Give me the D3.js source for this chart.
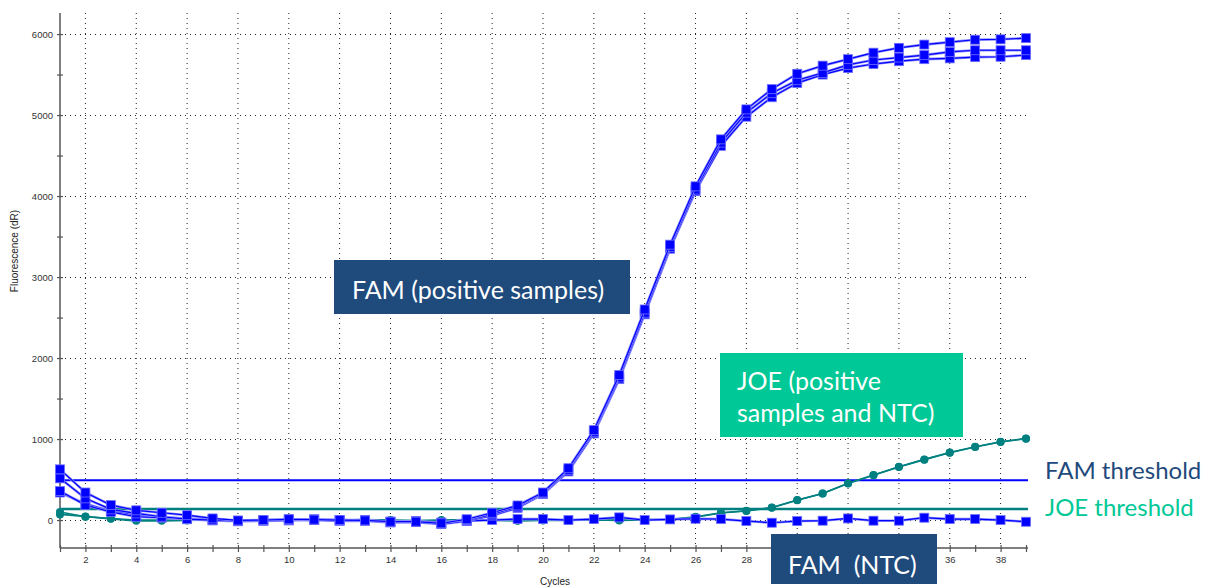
<!DOCTYPE html>
<html>
<head>
<meta charset="utf-8">
<script src="https://cdn.jsdelivr.net/npm/d3@7"></script>
<style>
  html, body { margin: 0; padding: 0; background: #fff; }
  svg { display: block; }
</style>
</head>
<body>
<svg id="chart" width="1212" height="588"></svg>
<script>
// ---------------------------------
// data
// ---------------------------------

var cycles = d3.range(1, 40);

var famPosA = [626, 340, 185, 120, 90, 60, 20, -5, 0, 10, 5, 0, -5, -20, -20, -40, 10, 90, 180, 340,
  640, 1110, 1790, 2600, 3400, 4120, 4700, 5070, 5320, 5510, 5610, 5690, 5770, 5830, 5870, 5900, 5930, 5935, 5950];
var famPosB = [515, 268, 132, 82, 41, 12, 0, -10, -5, 0, 10, -5, 0, -25, -15, -30, 0, 70, 165, 330,
  620, 1090, 1760, 2560, 3370, 4080, 4660, 5030, 5270, 5430, 5520, 5620, 5680, 5710, 5740, 5780, 5800, 5800, 5800];
var famPosC = [358, 185, 100, 41, 30, 10, -5, -15, -10, -5, 0, -10, -10, -30, -25, -50, -10, 55, 150, 320,
  600, 1070, 1740, 2540, 3350, 4060, 4620, 4980, 5220, 5395, 5500, 5580, 5630, 5665, 5690, 5700, 5715, 5720, 5740];
var famNtc = [340, 200, 110, 60, 35, 20, 5, -10, 0, 10, 5, 0, 0, -20, -15, -40, -10, 0, 12, 12,
  0, 12, 33, 0, 8, 16, 12, -12, -33, -12, -8, 20, -8, -8, 29, 12, 12, 0, -21];
var joeA = [100, 40, 20, 0, 0, 0, 5, -5, 0, 5, 0, 0, 5, 0, -5, 0, 5, 0, -5, 0,
  0, 5, 0, 5, 10, 40, 91, 115, 156, 247, 329, 453, 556, 658, 749, 835, 905, 967, 1008];
var joeB = [70, 45, 15, -10, -10, -5, 0, -10, -5, 0, -5, 0, 0, -5, -10, -5, 0, -5, -10, -5,
  -5, 0, -5, 0, 5, 35, 88, 112, 152, 245, 327, 450, 553, 655, 746, 832, 902, 964, 1005];

var famThreshold = 490;
var joeThreshold = 135;

var yTicks = [0, 1000, 2000, 3000, 4000, 5000, 6000];
var yMinorTicks = d3.range(0, 6001, 500);
var xLabelTicks = d3.range(2, 39, 2);

// ---------------------------------
// layout
// ---------------------------------

var FAM_BLUE = '#0000ff';
var JOE_TEAL = '#008080';
var BOX_NAVY = '#1f4a7c';
var BOX_GREEN = '#00c896';

var svg = d3.select('#chart');

var x = d3.scaleLinear().domain([1, 39]).range([60, 1026]);
var y = d3.scaleLinear().domain([-345, 6260]).range([548, 13]);

var xLeft = 60, xRight = 1028, yTop = 13, yBottom = 548;

// the FAM (NTC) box sits over the bottom axis, hiding the labels under it
var ntcBox = { x: 771, y: 534, w: 166, h: 50 };

// grid
var grid = svg.append('g').attr('class', 'grid');
grid.selectAll('line.v').data(xLabelTicks).enter().append('line')
  .attr('x1', function (d) { return x(d); })
  .attr('x2', function (d) { return x(d); })
  .attr('y1', yTop)
  .attr('y2', yBottom)
  .attr('stroke', '#222')
  .attr('stroke-width', 1)
  .attr('stroke-dasharray', '1,4');
grid.selectAll('line.h').data(yTicks).enter().append('line')
  .attr('x1', xLeft)
  .attr('x2', xRight)
  .attr('y1', function (d) { return Math.round(y(d)) + 0.5; })
  .attr('y2', function (d) { return Math.round(y(d)) + 0.5; })
  .attr('stroke', '#222')
  .attr('stroke-width', 1)
  .attr('stroke-dasharray', '1,4');

// axes
var axisColor = '#555';
var xAxis = d3.axisBottom(x).tickValues(cycles).tickSize(7).tickFormat(function (d) {
  var px = x(d);
  var hidden = px > ntcBox.x - 6 && px < ntcBox.x + ntcBox.w + 6;
  return d % 2 === 0 && d < 39 && !hidden ? d : '';
});
var gx = svg.append('g')
  .attr('transform', 'translate(0,' + (yBottom - 3) + ')')
  .call(xAxis);
gx.select('.domain').remove();
gx.selectAll('.tick line').attr('stroke', axisColor).attr('stroke-width', 1.2);
gx.selectAll('.tick text')
  .attr('y', 11)
  .attr('fill', '#333')
  .attr('font-family', 'Liberation Sans, Arial, sans-serif')
  .attr('font-size', '9.5px');

var yAxis = d3.axisLeft(y).tickValues(yMinorTicks).tickSize(6).tickFormat(function (d) {
  return d % 1000 === 0 ? d : '';
});
var gy = svg.append('g')
  .attr('transform', 'translate(' + (xLeft + 3) + ',0)')
  .call(yAxis);
gy.select('.domain').remove();
gy.selectAll('.tick line').attr('stroke', axisColor).attr('stroke-width', 1.2);
gy.selectAll('.tick text')
  .attr('x', -10)
  .attr('fill', '#333')
  .attr('font-family', 'Liberation Sans, Arial, sans-serif')
  .attr('font-size', '9.5px');

svg.append('line')
  .attr('x1', xLeft).attr('x2', xLeft).attr('y1', yTop).attr('y2', yBottom)
  .attr('stroke', axisColor).attr('stroke-width', 1.5);
svg.append('line')
  .attr('x1', xLeft).attr('x2', xRight).attr('y1', yBottom).attr('y2', yBottom)
  .attr('stroke', axisColor).attr('stroke-width', 1.5);

// axis titles
svg.append('text')
  .attr('transform', 'translate(18,251) rotate(-90)')
  .attr('text-anchor', 'middle')
  .attr('font-family', 'Liberation Sans, Arial, sans-serif')
  .attr('font-size', '10px')
  .attr('fill', '#222')
  .text('Fluorescence (dR)');
svg.append('text')
  .attr('x', 555)
  .attr('y', 585)
  .attr('text-anchor', 'middle')
  .attr('font-family', 'Liberation Sans, Arial, sans-serif')
  .attr('font-size', '10px')
  .attr('fill', '#222')
  .text('Cycles');

// threshold lines
svg.append('line')
  .attr('x1', xLeft).attr('x2', xRight)
  .attr('y1', y(famThreshold)).attr('y2', y(famThreshold))
  .attr('stroke', FAM_BLUE).attr('stroke-width', 2);
svg.append('line')
  .attr('x1', xLeft).attr('x2', xRight)
  .attr('y1', y(joeThreshold)).attr('y2', y(joeThreshold))
  .attr('stroke', JOE_TEAL).attr('stroke-width', 2.5);

// ---------------------------------
// amplification curves
// ---------------------------------

var line = d3.line()
  .x(function (d) { return x(d.c); })
  .y(function (d) { return y(d.v); });

var toPoints = function (values) {
  return values.map(function (v, i) { return { c: cycles[i], v: v }; });
};

var series = [
  { values: joeA, color: JOE_TEAL, marker: 'circle' },
  { values: joeB, color: JOE_TEAL, marker: 'circle' },
  { values: famNtc, color: FAM_BLUE, marker: 'square' },
  { values: famPosC, color: FAM_BLUE, marker: 'square' },
  { values: famPosB, color: FAM_BLUE, marker: 'square' },
  { values: famPosA, color: FAM_BLUE, marker: 'square' }
];

var curves = svg.append('g').attr('class', 'curves');
series.forEach(function (s) {
  var pts = toPoints(s.values);
  var g = curves.append('g');
  if (s.marker === 'square') {
    g.append('path').datum(pts)
      .attr('d', line)
      .attr('fill', 'none')
      .attr('stroke', '#9090ff')
      .attr('stroke-width', 2.6);
  }
  g.append('path').datum(pts)
    .attr('d', line)
    .attr('fill', 'none')
    .attr('stroke', s.color)
    .attr('stroke-width', s.marker === 'square' ? 1.2 : 1.6);
  if (s.marker === 'square') {
    g.selectAll('rect').data(pts).enter().append('rect')
      .attr('x', function (d) { return x(d.c) - 4.5; })
      .attr('y', function (d) { return y(d.v) - 4.5; })
      .attr('width', 9)
      .attr('height', 9)
      .attr('fill', FAM_BLUE)
      .attr('stroke', '#7070ff')
      .attr('stroke-width', 0.8);
  } else {
    g.selectAll('circle').data(pts).enter().append('circle')
      .attr('cx', function (d) { return x(d.c); })
      .attr('cy', function (d) { return y(d.v); })
      .attr('r', 4)
      .attr('fill', JOE_TEAL);
  }
});

// ---------------------------------
// annotation boxes
// ---------------------------------

var labelFont = 'Lato, "Open Sans", sans-serif';

var box = function (bx, by, bw, bh, fill, lines, tx, ty, lineGap) {
  svg.append('rect')
    .attr('x', bx).attr('y', by).attr('width', bw).attr('height', bh)
    .attr('fill', fill);
  lines.forEach(function (t, i) {
    svg.append('text')
      .attr('x', tx)
      .attr('y', ty + i * lineGap)
      .attr('fill', '#fff')
      .attr('font-family', labelFont)
      .attr('font-size', '25px')
      .style('white-space', 'pre')
      .text(t);
  });
};

box(334, 260, 296, 54, BOX_NAVY, ['FAM (positive samples)'], 352, 299, 0);
box(720, 353, 243, 84, BOX_GREEN, ['JOE (positive', 'samples and NTC)'], 737, 390, 32);
box(ntcBox.x, ntcBox.y, ntcBox.w, ntcBox.h, BOX_NAVY, ['FAM  (NTC)'], 788, 574, 0);

svg.append('text')
  .attr('x', 1045).attr('y', 479)
  .attr('fill', BOX_NAVY)
  .attr('font-family', labelFont)
  .attr('font-size', '24px')
  .text('FAM threshold');
svg.append('text')
  .attr('x', 1045).attr('y', 516)
  .attr('fill', BOX_GREEN)
  .attr('font-family', labelFont)
  .attr('font-size', '24px')
  .text('JOE threshold');
</script>
</body>
</html>
